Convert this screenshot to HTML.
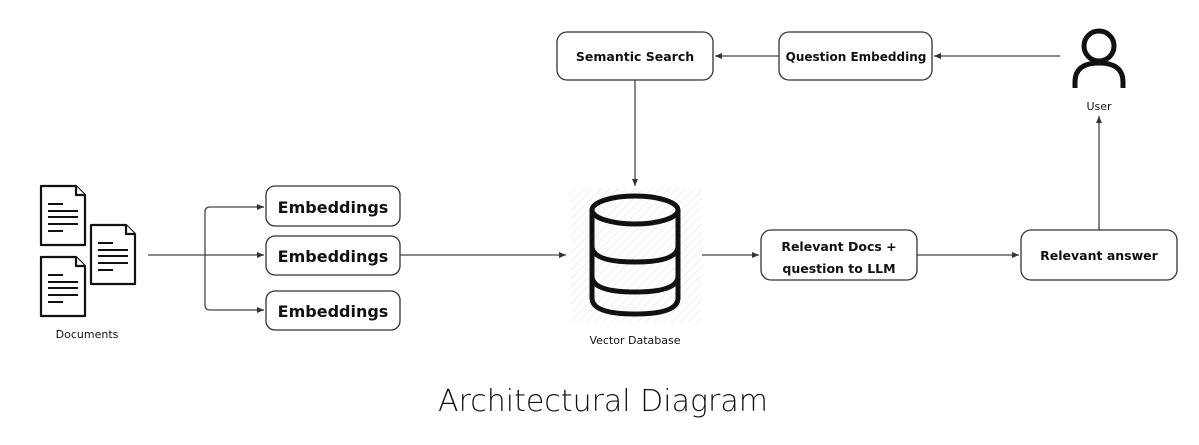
<!DOCTYPE html>
<html><head><style>
body{margin:0;background:#fff;}
svg text{font-family:"DejaVu Sans","Liberation Sans",sans-serif;fill:#111;}
</style></head><body>
<svg width="1199" height="440" viewBox="0 0 1199 440" xmlns="http://www.w3.org/2000/svg">
<defs>
<marker id="a" markerWidth="8" markerHeight="8" refX="7" refY="4" orient="auto" markerUnits="userSpaceOnUse">
<path d="M0,1 L7,4 L0,7 z" fill="#333"/></marker>
<pattern id="h" width="6" height="6" patternUnits="userSpaceOnUse" patternTransform="rotate(45)">
<line x1="0" y1="0" x2="0" y2="6" stroke="#eee" stroke-width="2"/></pattern>
</defs>
<g fill="none" stroke="#444" stroke-width="1.3">
<line x1="148" y1="255" x2="264" y2="255" marker-end="url(#a)"/>
<path d="M264,207 H210 Q205,207 205,212 V305 Q205,310 210,310 H264" />
<line x1="256" y1="207" x2="264" y2="207" marker-end="url(#a)"/>
<line x1="256" y1="310" x2="264" y2="310" marker-end="url(#a)"/>
<line x1="400" y1="255" x2="566" y2="255" marker-end="url(#a)"/>
<line x1="702" y1="255" x2="759" y2="255" marker-end="url(#a)"/>
<line x1="917" y1="255" x2="1019" y2="255" marker-end="url(#a)"/>
<line x1="1099" y1="230" x2="1099" y2="116" marker-end="url(#a)"/>
<line x1="1060" y1="56" x2="934" y2="56" marker-end="url(#a)"/>
<line x1="779" y1="56" x2="715" y2="56" marker-end="url(#a)"/>
<line x1="635" y1="80" x2="635" y2="186" marker-end="url(#a)"/>
</g>
<g fill="#fff" stroke="#333" stroke-width="1.3">
<rect x="266" y="186" width="134" height="40" rx="9"/>
<rect x="266" y="236" width="134" height="39" rx="9"/>
<rect x="266" y="291" width="134" height="39" rx="9"/>
<rect x="557" y="32" width="156" height="48" rx="10"/>
<rect x="779" y="32" width="153" height="48" rx="10"/>
<rect x="761" y="230" width="156" height="50" rx="10"/>
<rect x="1021" y="230" width="156" height="50" rx="10"/>
</g>
<g font-weight="bold" text-anchor="middle">
<text x="333" y="213" font-size="16">Embeddings</text>
<text x="333" y="262" font-size="16">Embeddings</text>
<text x="333" y="317" font-size="16">Embeddings</text>
<text x="635" y="61" font-size="12.5">Semantic Search</text>
<text x="856" y="61" font-size="12">Question Embedding</text>
<text x="839" y="251" font-size="12.5">Relevant Docs +</text>
<text x="839" y="273" font-size="12.5">question to LLM</text>
<text x="1099" y="260" font-size="12.5">Relevant answer</text>
</g>
<g fill="#fff" stroke="#111" stroke-width="2.2" stroke-linejoin="round">
<path d="M41,186 H76 L85,195 V245 H41 Z"/><path d="M76,186 V195 H85"/>
<path d="M91,225 H126 L135,234 V284 H91 Z"/><path d="M126,225 V234 H135"/>
<path d="M41,257 H76 L85,266 V316 H41 Z"/><path d="M76,257 V266 H85"/>
</g>
<g stroke="#111" stroke-width="2">
<path d="M48,204h15M48,211h30M48,217h30M48,224h30M48,231h15"/>
<path d="M98,243h15M98,250h30M98,256h30M98,263h30M98,270h15"/>
<path d="M48,275h15M48,282h30M48,288h30M48,295h30M48,302h15"/>
</g>
<text x="87" y="338" font-size="11" text-anchor="middle">Documents</text>
<rect x="570" y="188" width="132" height="134" fill="url(#h)"/>
<g fill="none" stroke="#111" stroke-width="5">
<ellipse cx="635" cy="210" rx="43" ry="14"/>
<path d="M592,210 V298 Q592,314 635,314 Q678,314 678,298 V210"/>
<path d="M592,246 Q592,262 635,262 Q678,262 678,246"/>
<path d="M592,276 Q592,292 635,292 Q678,292 678,276"/>
</g>
<text x="635" y="344" font-size="11" text-anchor="middle">Vector Database</text>
<g fill="none" stroke="#111" stroke-width="5">
<circle cx="1099" cy="46" r="15"/>
<path d="M1075,88 V82 Q1075,63 1099,63 Q1123,63 1123,82 V88"/>
</g>
<text x="1099" y="110" font-size="11" text-anchor="middle">User</text>
<text x="603" y="411" font-size="30" font-weight="300" text-anchor="middle" fill="#222">Architectural Diagram</text>
</svg>
</body></html>
